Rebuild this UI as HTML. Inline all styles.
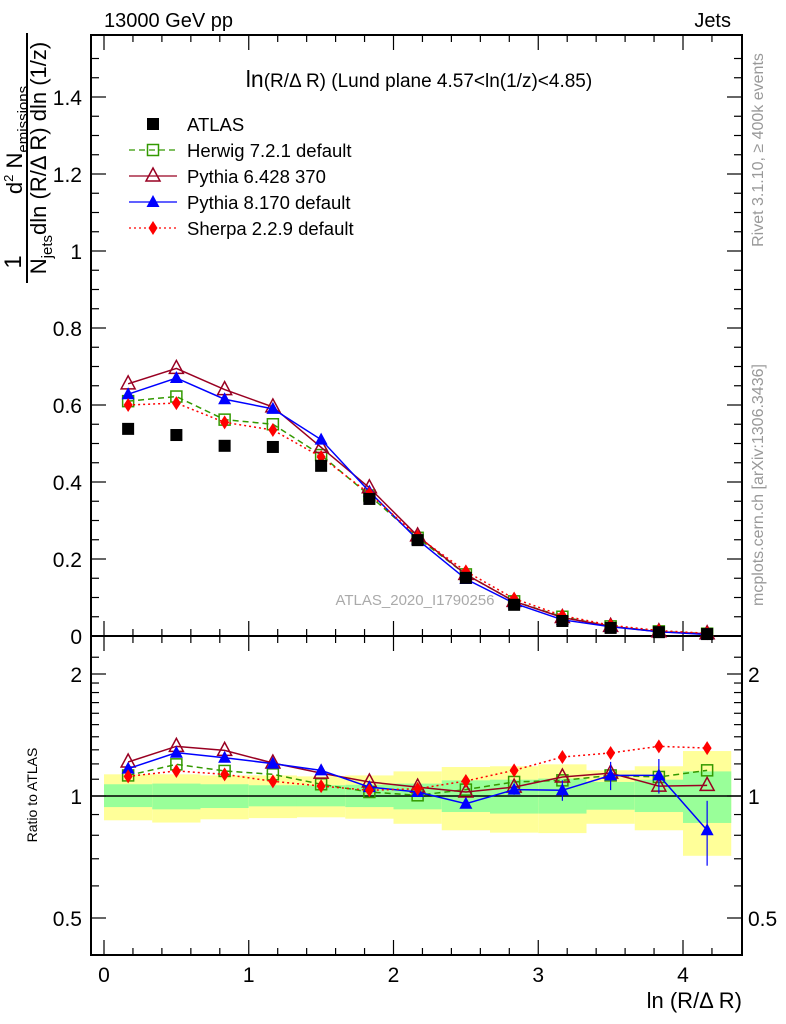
<!DOCTYPE html>
<html><head><meta charset="utf-8"><style>
html,body{margin:0;padding:0;background:#fff;}
svg{display:block;font-family:"Liberation Sans",Arial,sans-serif;}
</style></head><body>
<svg id="c" width="786" height="1024" viewBox="0 0 786 1024">
<text x="104" y="27" font-size="20">13000 GeV pp</text>
<text x="731" y="27" font-size="20" text-anchor="end">Jets</text>
<text x="419" y="87" font-size="19" text-anchor="middle"><tspan font-size="23">ln</tspan>(R/Δ R) (Lund plane 4.57&lt;ln(1/z)&lt;4.85)</text>
<text transform="translate(763,150) rotate(-90)" font-size="16" fill="#999" text-anchor="middle">Rivet 3.1.10, ≥ 400k events</text>
<text transform="translate(763,485) rotate(-90)" font-size="16" fill="#999" text-anchor="middle">mcplots.cern.ch [arXiv:1306.3436]</text>
<text x="415" y="605" font-size="15" fill="#aaa" text-anchor="middle">ATLAS_2020_I1790256</text>
<g transform="rotate(-90)">
<text x="-262" y="21" font-size="24" text-anchor="middle">1</text>
<text x="-140" y="22" font-size="22" text-anchor="middle">d<tspan font-size="13" dy="-9">2</tspan><tspan dy="9"> N</tspan><tspan font-size="15" dy="6">emissions</tspan></text>
<line x1="-283" y1="27" x2="-33" y2="27" stroke="#000" stroke-width="2"/>
<text x="-158" y="46" font-size="22" text-anchor="middle">N<tspan font-size="15" dy="6">jets</tspan><tspan dy="-6">dln (R/Δ R) dln (1/z)</tspan></text>
</g>
<text transform="translate(37,795) rotate(-90)" font-size="14" text-anchor="middle">Ratio to ATLAS</text>
<text x="742" y="1008" font-size="22" text-anchor="end">ln (R/Δ R)</text>
<g id="bands"></g><g id="axes"></g><g id="marks"></g><g id="legend"></g>
</svg>
<script>
const binLo=[0,0.3333,0.6667,1,1.3333,1.6667,2,2.3333,2.6667,3,3.3333,3.6667,4];
const binHi=[0.3333,0.6667,1,1.3333,1.6667,2,2.3333,2.6667,3,3.3333,3.6667,4,4.3333];
const xc=[0.1667,0.5,0.8333,1.1667,1.5,1.8333,2.1667,2.5,2.8333,3.1667,3.5,3.8333,4.1667];
const atlas=[0.538,0.522,0.494,0.491,0.442,0.356,0.249,0.151,0.081,0.039,0.021,0.010,0.005];
const herwig=[0.61,0.622,0.562,0.55,0.47,0.365,0.255,0.16,0.09,0.05,0.025,0.012,0.006];
const py6=[0.655,0.695,0.64,0.595,0.49,0.385,0.26,0.16,0.09,0.048,0.025,0.011,0.006];
const py8=[0.628,0.67,0.615,0.59,0.51,0.375,0.25,0.148,0.085,0.042,0.024,0.011,0.004];
const sherpa=[0.6,0.605,0.555,0.535,0.465,0.37,0.258,0.168,0.097,0.053,0.028,0.014,0.007];
const rHerwig=[1.124,1.197,1.153,1.131,1.069,1.023,1.004,1.037,1.083,1.093,1.124,1.114,1.157];
const rPy6=[1.213,1.326,1.296,1.206,1.139,1.083,1.052,1.023,1.052,1.114,1.139,1.058,1.062];
const rPy8=[1.168,1.279,1.243,1.202,1.157,1.052,1.023,0.957,1.037,1.033,1.124,1.124,0.823];
const rPy8Err=[0.01,0.01,0.01,0.01,0.01,0.01,0.01,0.02,0.03,0.06,0.09,0.11,0.15];
const rSherpa=[1.118,1.153,1.131,1.087,1.058,1.033,1.042,1.089,1.157,1.248,1.277,1.326,1.313];
const yelHi=[1.131,1.131,1.124,1.124,1.118,1.124,1.150,1.179,1.184,1.197,1.157,1.184,1.291];
const grnHi=[1.069,1.073,1.069,1.063,1.063,1.066,1.073,1.093,1.097,1.104,1.083,1.097,1.150];
const grnLo=[0.939,0.927,0.934,0.943,0.943,0.939,0.927,0.913,0.905,0.905,0.925,0.913,0.858];
const yelLo=[0.871,0.860,0.876,0.882,0.886,0.879,0.854,0.823,0.812,0.810,0.854,0.823,0.712];
const yTicks=[0,0.2,0.4,0.6,0.8,1,1.2,1.4];
const yTickLabels=["0","0.2","0.4","0.6","0.8","1","1.2","1.4"];
const xTicks=[0,1,2,3,4];
const rTicks=[0.5,1,2];
const rTickLabels=["0.5","1","2"];

const NS="http://www.w3.org/2000/svg";
const L=91,R=742,T=35,MB=636,RB=955;
const X=v=>104+v*144.75;
const Y=v=>636-v*385;
const RY=v=>796-122*Math.log2(v);
function mk(p,tag,a){const e=document.createElementNS(NS,tag);for(const k in a)e.setAttribute(k,a[k]);p.appendChild(e);return e;}
const gB=document.getElementById('bands'),gA=document.getElementById('axes'),gM=document.getElementById('marks'),gL=document.getElementById('legend');

for(let i=0;i<binLo.length;i++){
 const y=mk(gB,'rect',{x:X(binLo[i]),y:RY(yelHi[i]),width:X(binHi[i])-X(binLo[i]),height:RY(yelLo[i])-RY(yelHi[i]),fill:'#ffff99'});
 
 
 const g=mk(gB,'rect',{x:X(binLo[i]),y:RY(grnHi[i]),width:X(binHi[i])-X(binLo[i]),height:RY(grnLo[i])-RY(grnHi[i]),fill:'#99ff99'});
 
 
}
mk(gA,'line',{x1:L,x2:R,y1:RY(1),y2:RY(1),stroke:'#000','stroke-width':1.5});
const f1=mk(gA,'rect',{x:L,y:T,width:R-L,height:MB-T,fill:'none',stroke:'#000','stroke-width':2});


const f2=mk(gA,'rect',{x:L,y:MB,width:R-L,height:RB-MB,fill:'none',stroke:'#000','stroke-width':2});


for(let v=0;v<=1.55;v+=0.05){const maj=Math.abs(v/0.2-Math.round(v/0.2))<1e-6;const l=maj?15:8;const y=Y(v);if(y<T)break;
 mk(gA,'line',{x1:L,x2:L+l,y1:y,y2:y,stroke:'#000','stroke-width':1.2});mk(gA,'line',{x1:R,x2:R-l,y1:y,y2:y,stroke:'#000','stroke-width':1.2});}
yTicks.forEach((v,i)=>{const t=mk(gA,'text',{x:82,y:Y(v)+8,'font-size':21,'text-anchor':'end'});t.textContent=yTickLabels[i];
 
 });
for(let v=0;v<=4.35;v+=0.2){const maj=Math.abs(v-Math.round(v))<1e-6;const l=maj?15:7;const x=X(v);
 [[T,1],[MB,-1],[MB,1],[RB,-1]].forEach(([y0,d])=>mk(gA,'line',{x1:x,x2:x,y1:y0,y2:y0+d*l,stroke:'#000','stroke-width':1.2}));}
xTicks.forEach(v=>{const t=mk(gA,'text',{x:X(v),y:982,'font-size':21,'text-anchor':'middle'});t.textContent=String(v);
 
 });
const rMinor=[0.4,0.5,0.6,0.7,0.8,0.9,1,1.1,1.2,1.3,1.4,1.5,1.6,1.7,1.8,1.9,2,2.2];
rMinor.forEach(v=>{const y=RY(v);if(y<MB||y>RB)return;const maj=rTicks.includes(v);const l=maj?15:8;
 mk(gA,'line',{x1:L,x2:L+l,y1:y,y2:y,stroke:'#000','stroke-width':1.2});mk(gA,'line',{x1:R,x2:R-l,y1:y,y2:y,stroke:'#000','stroke-width':1.2});});
rTicks.forEach((v,i)=>{[[82,'end'],[748,'start']].forEach(([x,a])=>{const t=mk(gA,'text',{x:x,y:RY(v)+8,'font-size':21,'text-anchor':a});t.textContent=rTickLabels[i];
 
 });});

function marker(g,type,x,y,col){
 if(type==='sq')return mk(g,'rect',{x:x-6,y:y-6,width:12,height:12,fill:'#000'});
 if(type==='osq')return mk(g,'rect',{x:x-5.5,y:y-5.5,width:11,height:11,fill:'#fff','fill-opacity':0,stroke:col,'stroke-width':1.5});
 if(type==='otri')return mk(g,'polygon',{points:`${x},${y-8} ${x-7},${y+5} ${x+7},${y+5}`,fill:'none',stroke:col,'stroke-width':1.5});
 if(type==='tri')return mk(g,'polygon',{points:`${x},${y-7} ${x-6.5},${y+5} ${x+6.5},${y+5}`,fill:col});
 if(type==='dia')return mk(g,'polygon',{points:`${x},${y-7} ${x-4.5},${y} ${x},${y+7} ${x+4.5},${y}`,fill:col});
}
const series=[
 {n:'herwig',v:herwig,r:rHerwig,c:'#339900',d:'6,4',m:'osq'},
 {n:'pythia6',v:py6,r:rPy6,c:'#990022',d:'',m:'otri'},
 {n:'pythia8',v:py8,r:rPy8,c:'#0000ff',d:'',m:'tri'},
 {n:'sherpa',v:sherpa,r:rSherpa,c:'#ff0000',d:'2,3',m:'dia'}];
series.forEach(s=>{
 const g=mk(gM,'g',{});
 
 
 mk(g,'polyline',{points:xc.map((x,i)=>X(x)+','+Y(s.v[i])).join(' '),fill:'none',stroke:s.c,'stroke-width':1.5,'stroke-dasharray':s.d});
 mk(g,'polyline',{points:xc.map((x,i)=>X(x)+','+RY(s.r[i])).join(' '),fill:'none',stroke:s.c,'stroke-width':1.5,'stroke-dasharray':s.d});
 if(s.n==='pythia8')xc.forEach((x,i)=>{mk(g,'line',{x1:X(x),x2:X(x),y1:RY(s.r[i]+rPy8Err[i]),y2:RY(s.r[i]-rPy8Err[i]),stroke:s.c,'stroke-width':1.2});});
 xc.forEach((x,i)=>{const p=marker(g,s.m,X(x),Y(s.v[i]),s.c);
  
  
  const q=marker(g,s.m,X(x),RY(s.r[i]),s.c);
  
  });
});
xc.forEach((x,i)=>{const p=marker(gM,'sq',X(x),Y(atlas[i]));
 
 });
const leg=[['ATLAS','sq','#000',null],['Herwig 7.2.1 default','osq','#339900','6,4'],['Pythia 6.428 370','otri','#990022',''],['Pythia 8.170 default','tri','#0000ff',''],['Sherpa 2.2.9 default','dia','#ff0000','2,3']];
leg.forEach((e,i)=>{const y=124+i*26;const g=mk(gL,'g',{});
 
 
 if(e[3]!==null)mk(g,'line',{x1:129,x2:177,y1:y,y2:y,stroke:e[2],'stroke-width':1.3,'stroke-dasharray':e[3]});
 marker(g,e[1],153,y,e[2]);
 const t=mk(g,'text',{x:187,y:y+7,'font-size':18.5});t.textContent=e[0];});
</script>
</body></html>
